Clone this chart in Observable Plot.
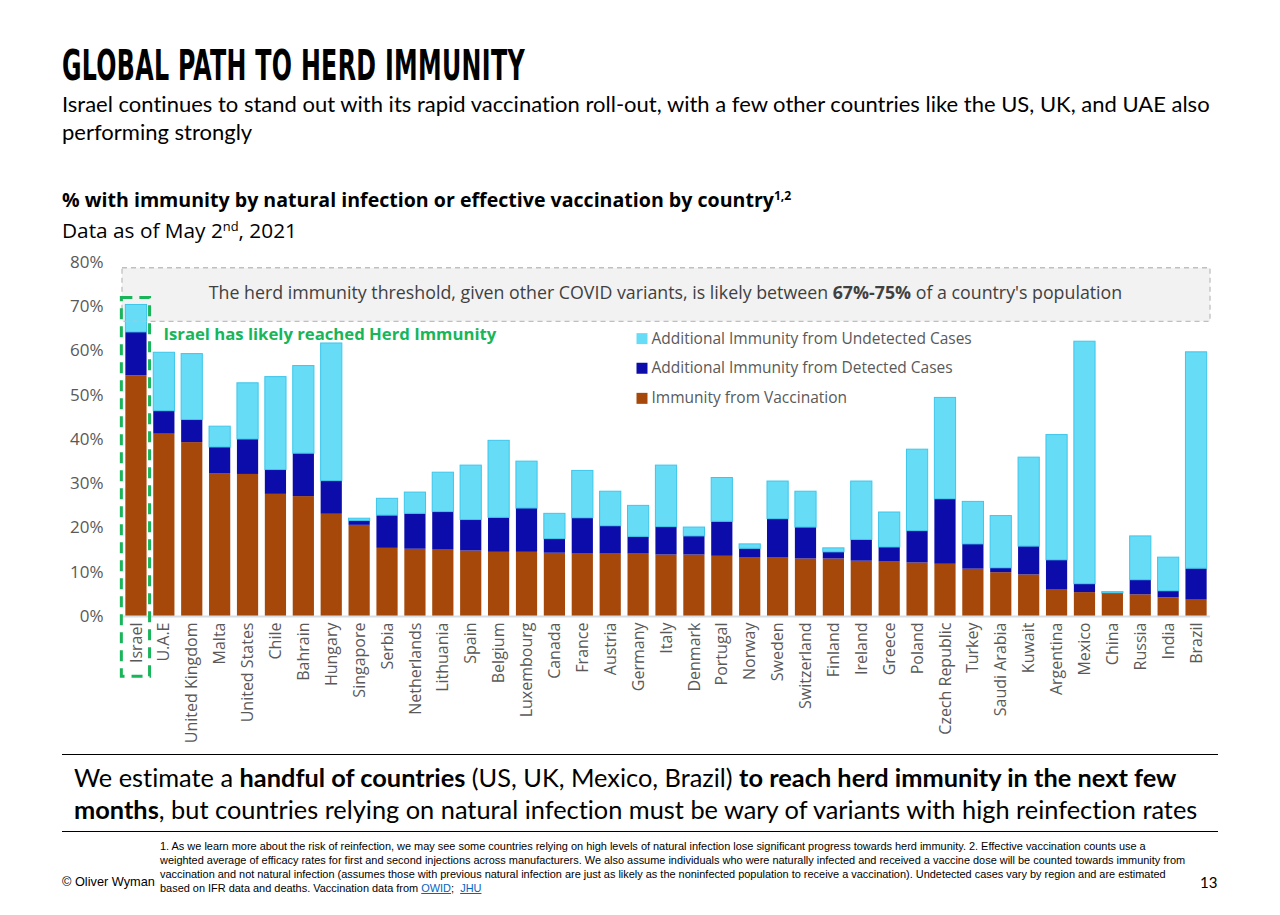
<!DOCTYPE html>
<html>
<head>
<meta charset="utf-8">
<script src="https://cdn.jsdelivr.net/npm/d3@7"></script>
<script src="https://cdn.jsdelivr.net/npm/@observablehq/plot@0.6"></script>
<style>
  body { margin: 0; background: #fff; }
  #page { position: relative; width: 1280px; height: 915px; overflow: hidden; font-family: Lato, "Open Sans", sans-serif; color: #000; font-variant-ligatures: none; }
  .abs { position: absolute; white-space: nowrap; }
  #title { left: 62px; top: 42px; font-family: "Liberation Sans Narrow", "DejaVu Sans Condensed", "Liberation Sans", sans-serif; font-weight: bold; font-size: 42px; line-height: 48px; transform-origin: 0 50%; letter-spacing: 0.5px; }
  .sub { left: 62px; font-size: 21px; line-height: 28px; }
  #ct { left: 62px; top: 186px; font-family: "Open Sans", sans-serif; font-weight: bold; font-size: 19px; line-height: 28px; }
  #da { left: 62px; top: 216px; font-family: "Open Sans", sans-serif; font-size: 19px; line-height: 28px; }
  sup { font-size: 0.62em; line-height: 0; vertical-align: 0.55em; }
  .bt { left: 74px; font-size: 23px; line-height: 32px; }
  .hr { position: absolute; left: 62px; width: 1156px; height: 1px; background: #000; }
  .fn { left: 160px; font-family: "Liberation Sans Narrow", "Liberation Sans", sans-serif; font-size: 10px; line-height: 14px; }
  .fn a { color: #0563c1; text-decoration: underline; }
  #ow { left: 62px; top: 873px; font-family: "Liberation Sans Narrow", "Liberation Sans", sans-serif; font-size: 13px; line-height: 18px; }
  #pg { left: 1200px; top: 871px; font-family: Lato, sans-serif; font-size: 15px; line-height: 22px; }
  #chart { position: absolute; left: 0; top: 250px; }
</style>
</head>
<body>
<div id="page">
  <div id="title" class="abs">GLOBAL PATH TO HERD IMMUNITY</div>
  <div id="s1" class="abs sub" style="top:90px">Israel continues to stand out with its rapid vaccination roll-out, with a few other countries like the US, UK, and UAE also</div>
  <div id="s2" class="abs sub" style="top:118px">performing strongly</div>
  <div id="ct" class="abs">% with immunity by natural infection or effective vaccination by country<sup>1,2</sup></div>
  <div id="da" class="abs">Data as of May 2<sup>nd</sup>, 2021</div>
  <div id="chart"></div>
  <div class="hr" style="top:754px"></div>
  <div id="b1" class="abs bt" style="top:761px">We estimate a <b>handful of countries</b> (US, UK, Mexico, Brazil) <b>to reach herd immunity in the next few</b></div>
  <div id="b2" class="abs bt" style="top:793px"><b>months</b>, but countries relying on natural infection must be wary of variants with high reinfection rates</div>
  <div class="hr" style="top:831px"></div>
  <div id="f1" class="abs fn" style="top:839px">1. As we learn more about the risk of reinfection, we may see some countries relying on high levels of natural infection lose significant progress towards herd immunity. 2. Effective vaccination counts use a</div>
  <div id="f2" class="abs fn" style="top:853px">weighted average of efficacy rates for first and second injections across manufacturers. We also assume individuals who were naturally infected and received a vaccine dose will be counted towards immunity from</div>
  <div id="f3" class="abs fn" style="top:867px">vaccination and not natural infection (assumes those with previous natural infection are just as likely as the noninfected population to receive a vaccination). Undetected cases vary by region and are estimated</div>
  <div id="f4" class="abs fn" style="top:881px">based on IFR data and deaths. Vaccination data from <a href="#">OWID</a>;&nbsp; <a href="#">JHU</a></div>
  <div id="ow" class="abs">© Oliver Wyman</div>
  <div id="pg" class="abs">13</div>
</div>
<script>
// ---------------- DATA ----------------
const countries = ["Israel","U.A.E","United Kingdom","Malta","United States","Chile","Bahrain","Hungary","Singapore","Serbia","Netherlands","Lithuania","Spain","Belgium","Luxembourg","Canada","France","Austria","Germany","Italy","Denmark","Portugal","Norway","Sweden","Switzerland","Finland","Ireland","Greece","Poland","Czech Republic","Turkey","Saudi Arabia","Kuwait","Argentina","Mexico","China","Russia","India","Brazil"];
const vaccination = [54.4,41.2,39.3,32.3,32.1,27.6,27.1,23.1,20.6,15.4,15.2,15.0,14.8,14.5,14.5,14.3,14.1,14.1,14.1,13.9,13.9,13.6,13.2,13.2,13.0,13.0,12.5,12.3,12.1,11.8,10.7,9.9,9.4,6.1,5.4,5.0,4.9,4.2,3.7];
const detected = [9.8,5.2,5.1,5.9,7.9,5.5,9.7,7.5,1.0,7.4,8.0,8.6,7.0,7.8,9.9,3.2,8.1,6.3,3.9,6.3,4.2,7.8,2.1,8.8,7.1,1.5,4.8,3.3,7.2,14.7,5.6,1.0,6.4,6.6,1.9,0.2,3.3,1.5,7.1];
const undetected = [6.2,13.2,14.9,4.7,12.7,21.0,19.8,31.1,0.5,3.8,4.8,8.9,12.3,17.4,10.6,5.7,10.7,7.8,7.0,13.9,2.0,9.9,1.0,8.5,8.1,0.9,13.2,7.9,18.4,22.9,9.6,11.8,20.1,28.3,54.8,0.3,9.9,7.6,48.9];
const seriesNames = ["Immunity from Vaccination","Additional Immunity from Detected Cases","Additional Immunity from Undetected Cases"];
const seriesColors = ["#a5480a","#0c0cab","#66dcf7"];
const yTicks = [0,10,20,30,40,50,60,70,80];
const thresholdBand = [{y1: 66.6, y2: 78.7}];
const thresholdParts = ["The herd immunity threshold, given other COVID variants, is likely between ", "67%-75%", " of a country's population"];
const israelNote = "Israel has likely reached Herd Immunity";
const legendItems = [
  {label: "Additional Immunity from Undetected Cases", color: "#66dcf7", y: 62.8},
  {label: "Additional Immunity from Detected Cases", color: "#0c0cab", y: 56.1},
  {label: "Immunity from Vaccination", color: "#a5480a", y: 49.3}
];

// ---------------- TEXT FITTING ----------------
function fitSize(el, target) {
  const w = el.getBoundingClientRect().width;
  const fs = parseFloat(getComputedStyle(el).fontSize);
  return fs * target / w;
}
const byId = id => document.getElementById(id);
{
  const t = byId("title");
  const w = t.getBoundingClientRect().width;
  t.style.transform = `scaleX(${463 / w})`;
}
{
  const fs = fitSize(byId("s1"), 1148);
  byId("s1").style.fontSize = fs + "px"; byId("s2").style.fontSize = fs + "px";
}
byId("ct").style.fontSize = fitSize(byId("ct"), 730) + "px";
byId("da").style.fontSize = fitSize(byId("da"), 235) + "px";
{
  const a = fitSize(byId("b1"), 1103), b = fitSize(byId("b2"), 1123);
  const fs = (a + b) / 2;
  byId("b1").style.fontSize = fs + "px"; byId("b2").style.fontSize = fs + "px";
}
{
  const fs = fitSize(byId("f2"), 1027);
  ["f1","f2","f3","f4"].forEach(id => byId(id).style.fontSize = fs + "px");
}
byId("ow").style.fontSize = fitSize(byId("ow"), 93) + "px";

// ---------------- CHART ----------------
const rows = [];
countries.forEach((c, i) => {
  rows.push({country: c, series: seriesNames[0], value: vaccination[i]});
  rows.push({country: c, series: seriesNames[1], value: detected[i]});
  rows.push({country: c, series: seriesNames[2], value: undetected[i]});
});
const undetRows = countries.map((c, i) => ({country: c, y1: vaccination[i] + detected[i], y2: vaccination[i] + detected[i] + undetected[i]}));
const green = "#19b55a";
const thresholdText = thresholdParts.join("");

const chart = Plot.plot({
  width: 1280,
  height: 500,
  marginTop: 12,
  marginLeft: 122,
  marginRight: 70,
  marginBottom: 134,
  style: {fontFamily: "'Open Sans', sans-serif", fontSize: "16px", color: "#595959", background: "transparent", overflow: "visible"},
  x: {domain: countries, paddingInner: 0.24, paddingOuter: 0.12, label: null, tickSize: 0, tickRotate: -90, tickPadding: 6},
  y: {domain: [0, 80], ticks: yTicks, tickFormat: d => d + "%", label: null, tickSize: 0, tickPadding: 19},
  color: {domain: seriesNames, range: seriesColors},
  marks: [
    Plot.rect(thresholdBand, {y1: "y1", y2: "y2", fill: "#f2f2f2"}),
    Plot.barY(rows, {x: "country", y: "value", fill: "series"}),
    Plot.barY(undetRows, {x: "country", y1: "y1", y2: "y2", fill: "none", stroke: "#3ec6ea", strokeWidth: 1}),
    Plot.rect(thresholdBand, {y1: "y1", y2: "y2", fill: "none", stroke: "#bfbfbf", strokeWidth: 1.3, strokeDasharray: "5,4"}),
    Plot.ruleY([0], {stroke: "#d6dde4", strokeWidth: 2}),
    Plot.text([thresholdText], {y: 73.0, frameAnchor: "middle", dx: -1, text: d => d, fill: "#404040", fontSize: 17.8}),
    Plot.barY([{country: "Israel", y1: -13.6, y2: 72.0}], {x: "country", y1: "y1", y2: "y2", fill: "none", stroke: green, strokeWidth: 3, strokeDasharray: "11,7", insetLeft: -4, insetRight: -3}),
    Plot.text([israelNote], {y: 63.7, frameAnchor: "left", dx: 41, text: d => d, textAnchor: "start", fill: green, fontWeight: "bold", fontSize: 16.7}),
    Plot.dot(legendItems, {y: "y", frameAnchor: "left", dx: 519.5, symbol: "square", r: 6.2, fill: d => d.color, stroke: "none"}),
    Plot.text(legendItems, {y: "y", frameAnchor: "left", dx: 529, text: "label", textAnchor: "start", fill: "#595959", fontSize: 15.5})
  ]
});
byId("chart").appendChild(chart);

// bold part of the threshold sentence
const svg = d3.select(chart);
svg.selectAll("text").filter(function () { return this.textContent === thresholdText; }).each(function () {
  const t = d3.select(this);
  t.text(null);
  t.append("tspan").text(thresholdParts[0]);
  t.append("tspan").attr("font-weight", "bold").text(thresholdParts[1]);
  t.append("tspan").text(thresholdParts[2]);
});
svg.selectAll('g[aria-label^="y-axis"] text').attr("font-size", 17);
</script>
</body>
</html>
